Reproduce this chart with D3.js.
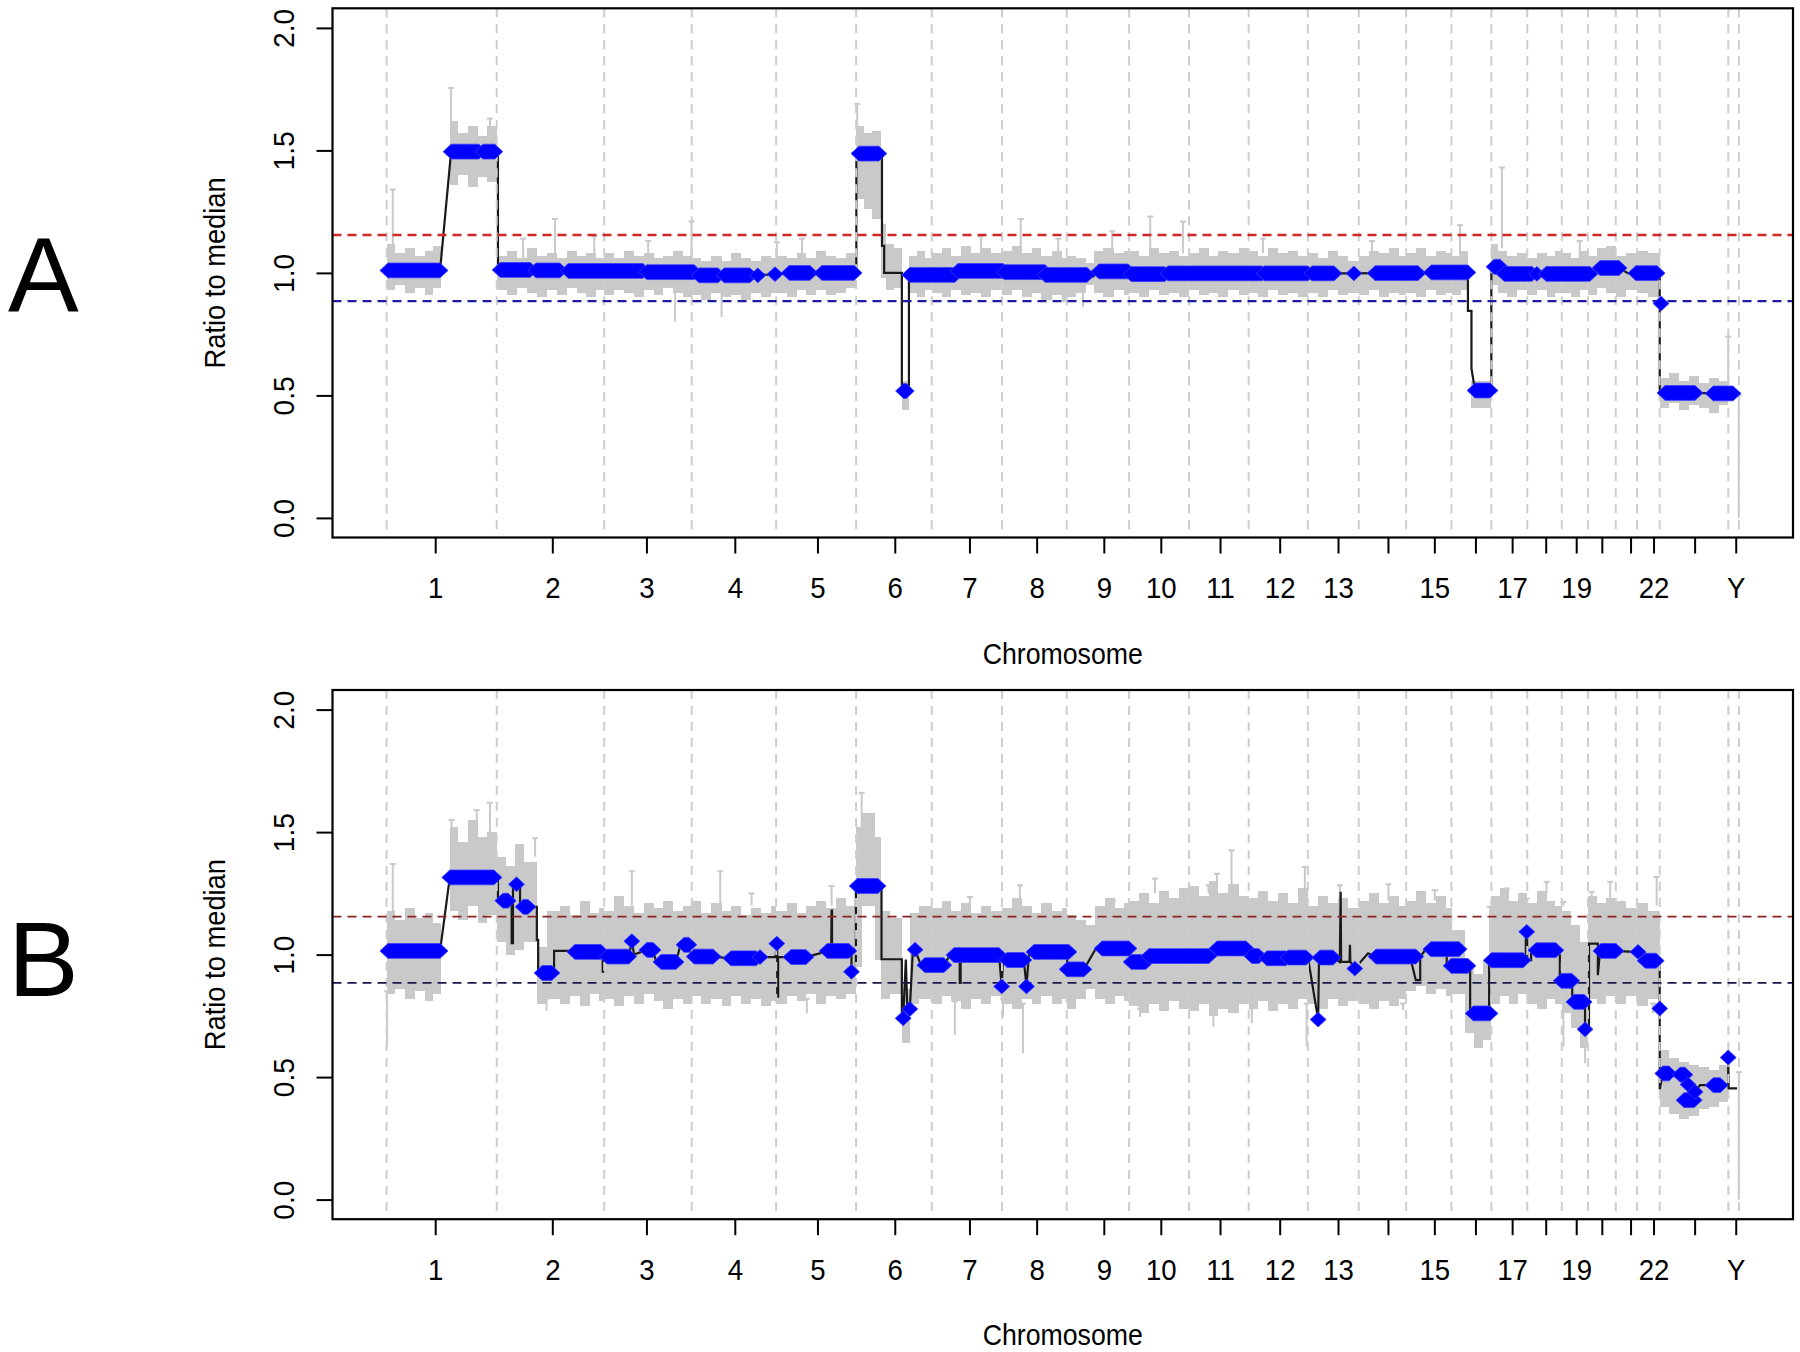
<!doctype html>
<html>
<head>
<meta charset="utf-8">
<title>Ratio to median</title>
<script src="https://cdn.jsdelivr.net/npm/d3@7"></script>
<style>
  body { margin: 0; background: #fff; }
  text { font-family: "Liberation Sans", Arial, sans-serif; fill: #000; }
</style>
</head>
<body>
<script>

// chromosomes (Mb), genome order
var chromNames = ['1','2','3','4','5','6','7','8','9','10','11','12','13','14','15','16','17','18','19','20','21','22','X','Y'];
var chromLengths = [249.25, 243.2, 198.0, 191.15, 180.9, 171.1, 159.1, 146.4, 141.2, 135.5, 135.0, 133.9, 115.2, 107.3, 102.5, 90.4, 81.2, 78.1, 59.1, 63.0, 48.1, 51.3, 155.3, 24.0];
// axis tick positions (genome Mb) and their labels
var tickPos = [110, 375, 588, 788, 975, 1150, 1319, 1471, 1623, 1752, 1886, 2021, 2153, 2266, 2371, 2464, 2547, 2623, 2692, 2750, 2815, 2867, 2960, 3053];
var tickLabels = ['1','2','3','4','5','6','7','8','9','10','11','12','13','','15','','17','','19','','','22','','Y'];
var yTicks = [0, 0.5, 1, 1.5, 2];
var upperCut = 1.155;
var lowerCut = 0.885;

// ---- panel A ----
// segment calls: [start Mb, end Mb, ratio]
var runsA = [[3,121,1.01],[146,209,1.495],[218,245,1.495],[257,325,1.012],[338,392,1.01],[411,580,1.008],[589,696,1.003],[707,750,0.99],[764,822,0.99],[840,840,0.99],[879,879,0.995],[911,958,1.0],[985,1058,1.0],[1069,1114,1.487],[1170,1176,0.518],[1184,1286,0.992],[1293,1395,1.008],[1398,1490,1.003],[1490,1585,0.992],[1612,1678,1.006],[1685,1761,0.995],[1768,1981,0.998],[1986,2085,0.998],[2094,2144,0.998],[2189,2189,0.998],[2237,2334,0.999],[2364,2447,1.002],[2463,2497,0.52],[2506,2520,1.025],[2529,2592,0.996],[2603,2603,0.996],[2624,2723,0.996],[2746,2789,1.02],[2827,2875,0.999],[2884,2884,0.875],[2893,2961,0.51],[3002,3047,0.508]];
// connecting line: [Mb, ratio]
var lineA = [[3,1.01],[121,1.01],[146,1.495],[245,1.495],[252,1.495],[252,1.012],[325,1.012],[338,1.01],[392,1.01],[411,1.008],[580,1.008],[589,1.003],[696,1.003],[707,0.99],[822,0.99],[840,0.99],[879,0.995],[911,1.0],[1058,1.0],[1063,1.0],[1063,1.487],[1114,1.487],[1121,1.487],[1121,1.11],[1126,1.11],[1126,1.0],[1166,1.0],[1166,0.518],[1182,0.518],[1182,0.992],[1286,0.992],[1293,1.008],[1395,1.008],[1490,1.003],[1585,0.992],[1599,0.985],[1612,1.006],[1678,1.006],[1761,0.995],[1981,0.998],[2144,0.998],[2334,0.999],[2447,1.002],[2447,0.845],[2455,0.845],[2455,0.61],[2463,0.52],[2497,0.52],[2500,0.52],[2500,1.025],[2520,1.025],[2529,0.996],[2723,0.996],[2746,1.02],[2789,1.02],[2809,0.999],[2875,0.999],[2881,0.999],[2881,0.51],[2893,0.51],[2961,0.51],[3002,0.508],[3047,0.508],[3060,0.497]];
// bin error envelope: [start Mb, end Mb, low, high]
var grayA = [
  [0,20,0.93,1.12],[20,42,0.95,1.08],[42,64,0.92,1.10],[64,86,0.94,1.07],[86,106,0.91,1.09],[106,122,0.94,1.11],
  [143,162,1.36,1.62],[162,184,1.40,1.57],[184,206,1.35,1.60],[206,228,1.39,1.56],[228,250,1.37,1.60],
  [250,272,0.93,1.07],[272,295,0.91,1.09],[295,318,0.94,1.06],[318,340,0.92,1.10],[340,362,0.90,1.07],[362,385,0.93,1.08],[385,408,0.91,1.06],[408,430,0.94,1.09],[430,452,0.92,1.07],[452,474,0.90,1.08],[474,492,0.93,1.06],
  [492,515,0.91,1.08],[515,538,0.93,1.06],[538,560,0.92,1.09],[560,582,0.90,1.07],[582,604,0.93,1.08],[604,626,0.91,1.06],[626,648,0.94,1.07],[648,670,0.92,1.09],[670,690,0.90,1.07],
  [690,712,0.91,1.06],[712,735,0.89,1.05],[735,758,0.92,1.07],[758,780,0.90,1.05],[780,802,0.91,1.08],[802,825,0.89,1.06],[825,848,0.92,1.05],[848,870,0.90,1.07],[870,882,0.92,1.06],
  [882,905,0.92,1.07],[905,928,0.90,1.06],[928,950,0.93,1.08],[950,972,0.91,1.06],[972,995,0.93,1.09],[995,1018,0.91,1.07],[1018,1040,0.92,1.06],[1040,1063,0.94,1.08],
  [1063,1080,1.30,1.60],[1080,1098,1.26,1.57],[1098,1118,1.22,1.58],
  [1118,1130,0.98,1.20],[1130,1148,0.93,1.12],[1148,1166,0.94,1.10],[1166,1182,0.44,0.56],
  [1182,1200,0.92,1.07],[1200,1218,0.90,1.09],[1218,1234,0.93,1.06],
  [1234,1256,0.92,1.08],[1256,1278,0.90,1.10],[1278,1300,0.93,1.07],[1300,1322,0.91,1.11],[1322,1345,0.92,1.08],[1345,1368,0.90,1.10],[1368,1393,0.93,1.08],
  [1393,1415,0.91,1.09],[1415,1438,0.93,1.11],[1438,1460,0.90,1.08],[1460,1482,0.92,1.10],[1482,1505,0.89,1.07],[1505,1528,0.91,1.09],[1528,1539,0.88,1.06],
  [1539,1560,0.90,1.07],[1560,1582,0.92,1.06],[1582,1600,0.95,1.04],[1600,1622,0.92,1.09],[1622,1645,0.90,1.10],[1645,1668,0.93,1.08],[1668,1680,0.91,1.09],
  [1680,1702,0.92,1.09],[1702,1725,0.90,1.07],[1725,1748,0.93,1.10],[1748,1770,0.91,1.08],[1770,1793,0.92,1.09],[1793,1816,0.90,1.07],
  [1816,1838,0.93,1.08],[1838,1860,0.91,1.10],[1860,1882,0.92,1.07],[1882,1905,0.90,1.09],[1905,1928,0.93,1.08],[1928,1951,0.91,1.10],
  [1951,1973,0.92,1.09],[1973,1995,0.90,1.07],[1995,2018,0.93,1.10],[2018,2040,0.91,1.08],[2040,2062,0.92,1.09],[2062,2085,0.90,1.07],
  [2085,2108,0.92,1.08],[2108,2130,0.90,1.06],[2130,2152,0.93,1.09],[2152,2175,0.91,1.07],[2175,2200,0.92,1.05],
  [2200,2222,0.91,1.07],[2222,2245,0.93,1.09],[2245,2268,0.90,1.08],[2268,2290,0.92,1.10],[2290,2307,0.91,1.07],
  [2307,2330,0.92,1.08],[2330,2352,0.90,1.10],[2352,2375,0.93,1.07],[2375,2398,0.91,1.09],[2398,2410,0.92,1.08],
  [2410,2432,0.91,1.07],[2432,2447,0.93,1.09],[2455,2500,0.45,0.56],
  [2500,2515,0.95,1.12],[2515,2535,0.92,1.09],[2535,2558,0.90,1.07],[2558,2581,0.93,1.08],
  [2581,2603,0.91,1.06],[2603,2625,0.93,1.08],[2625,2645,0.90,1.07],[2645,2659,0.92,1.09],
  [2659,2680,0.92,1.08],[2680,2700,0.90,1.06],[2700,2718,0.93,1.09],
  [2718,2740,0.91,1.07],[2740,2760,0.94,1.10],[2760,2781,0.92,1.11],
  [2781,2805,0.90,1.07],[2805,2830,0.93,1.08],[2830,2855,0.92,1.09],[2855,2881,0.90,1.08],
  [2881,2903,0.45,0.57],[2903,2925,0.47,0.59],[2925,2948,0.44,0.56],[2948,2970,0.46,0.58],[2970,2993,0.45,0.55],[2993,3015,0.43,0.57],[3015,3036,0.46,0.56]
];
// single long error bars: [Mb, low, high]
var spikesA = [[14,1.05,1.34],[146,1.55,1.755],[234,1.55,1.63],[309,1.05,1.14],[381,1.05,1.22],[470,1.05,1.15],[592,1.05,1.13],[653,0.80,0.95],[690,1.05,1.21],[758,0.82,0.95],[883,1.05,1.125],[940,1.05,1.14],[1065,1.55,1.69],[1345,1.05,1.15],[1435,1.08,1.22],[1520,1.05,1.14],[1576,0.86,0.95],[1642,1.08,1.17],[1728,1.08,1.23],[1802,1.08,1.21],[1983,1.08,1.14],[2230,1.05,1.13],[2429,1.07,1.195],[2524,1.10,1.43],[2700,1.05,1.13],[3036,0.55,0.74],[3060,0.0,0.50]];

// ---- panel B ----
var runsB = [[3,121,1.015],[143,243,1.315],[263,275,1.22],[294,294,1.287],[309,320,1.195],[352,374,0.925],[426,485,1.011],[499,548,0.992],[555,555,1.055],[589,603,1.019],[621,655,0.97],[673,684,1.04],[696,739,0.992],[779,836,0.985],[845,845,0.99],[883,883,1.045],[915,949,0.99],[997,1046,1.015],[1052,1052,0.93],[1065,1112,1.28],[1169,1169,0.74],[1184,1184,0.778],[1196,1196,1.02],[1218,1261,0.957],[1284,1386,0.998],[1392,1392,0.87],[1404,1442,0.978],[1448,1448,0.87],[1465,1544,1.011],[1540,1578,0.94],[1619,1680,1.025],[1685,1718,0.97],[1725,1861,0.994],[1879,1945,1.025],[1958,1974,0.994],[1992,2035,0.985],[2040,2081,0.988],[2108,2108,0.735],[2112,2142,0.988],[2191,2191,0.943],[2239,2329,0.992],[2363,2427,1.022],[2409,2447,0.954],[2459,2497,0.76],[2500,2572,0.977],[2580,2580,1.093],[2601,2646,1.018],[2658,2682,0.893],[2687,2710,0.807],[2712,2712,0.695],[2748,2782,1.015],[2832,2832,1.011],[2848,2873,0.975],[2881,2881,0.78],[2888,2902,0.515],[2927,2938,0.51],[2945,2945,0.47],[2936,2959,0.406],[2961,2961,0.44],[3002,3018,0.467],[3036,3036,0.58]];
var lineB = [[3,1.015],[121,1.015],[143,1.315],[243,1.315],[252,1.315],[252,1.22],[275,1.22],[283,1.22],[283,1.047],[286,1.047],[286,1.287],[294,1.287],[302,1.287],[302,1.195],[320,1.195],[340,1.195],[340,1.06],[343,1.06],[343,0.925],[374,0.925],[379,0.925],[379,1.015],[415,1.015],[426,1.011],[489,1.011],[489,0.93],[490,0.93],[490,1.011],[495,1.011],[495,0.992],[548,0.992],[555,1.055],[560,1.0],[589,1.019],[603,1.019],[610,0.97],[655,0.97],[665,1.04],[684,1.04],[690,0.992],[739,0.992],[779,0.985],[836,0.985],[845,0.99],[880,0.99],[883,1.045],[884,1.045],[884,0.828],[886,0.828],[886,0.99],[915,0.99],[949,0.99],[990,1.01],[1006,1.015],[1007,1.18],[1008,1.18],[1008,1.015],[1046,1.015],[1052,1.015],[1052,0.93],[1062,0.93],[1062,1.28],[1112,1.28],[1120,1.28],[1120,0.981],[1166,0.981],[1166,0.74],[1169,0.74],[1175,0.98],[1178,0.80],[1184,0.778],[1191,1.02],[1196,1.02],[1209,0.957],[1261,0.957],[1275,0.998],[1297,0.998],[1297,0.885],[1299,0.885],[1299,0.998],[1386,0.998],[1392,0.87],[1395,0.978],[1442,0.978],[1448,0.87],[1454,1.011],[1540,1.011],[1540,0.94],[1578,0.94],[1605,1.025],[1680,1.025],[1685,0.97],[1718,0.97],[1725,0.994],[1861,0.994],[1870,1.025],[1945,1.025],[1952,0.994],[1974,0.994],[1983,0.985],[2035,0.985],[2081,0.988],[2085,0.988],[2108,0.735],[2110,0.988],[2142,0.988],[2157,0.97],[2159,1.256],[2160,0.97],[2179,0.97],[2180,1.04],[2181,0.97],[2191,0.943],[2221,1.005],[2239,0.992],[2316,0.992],[2329,0.896],[2339,0.896],[2339,0.992],[2352,1.022],[2399,1.022],[2399,0.954],[2452,0.954],[2452,0.762],[2495,0.762],[2495,0.98],[2500,0.977],[2572,0.977],[2578,0.977],[2578,1.093],[2581,1.093],[2581,0.977],[2590,0.977],[2590,1.018],[2646,1.018],[2655,1.018],[2655,0.893],[2683,0.893],[2683,0.807],[2710,0.807],[2712,0.807],[2712,0.695],[2721,0.695],[2721,1.045],[2741,1.045],[2741,0.916],[2746,1.015],[2782,1.015],[2821,1.011],[2832,1.011],[2848,0.975],[2873,0.975],[2881,0.975],[2881,0.78],[2881,0.45],[2888,0.515],[2902,0.515],[2927,0.51],[2945,0.47],[2950,0.406],[2961,0.44],[2972,0.467],[3018,0.467],[3036,0.467],[3036,0.58],[3037,0.454],[3056,0.454]];
var grayB = [
  [0,20,0.84,1.18],[20,42,0.86,1.14],[42,64,0.82,1.19],[64,86,0.85,1.15],[86,106,0.81,1.17],[106,122,0.84,1.13],
  [143,162,1.18,1.52],[162,184,1.14,1.46],[184,206,1.20,1.55],[206,228,1.13,1.48],[228,250,1.16,1.50],
  [250,270,1.05,1.40],[270,290,1.00,1.36],[290,312,1.02,1.45],[312,340,1.05,1.38],[340,362,0.80,1.03],[362,392,0.82,1.18],
  [392,415,0.80,1.20],[415,438,0.83,1.16],[438,460,0.79,1.22],[460,480,0.84,1.17],[480,492,0.81,1.19],
  [492,515,0.82,1.18],[515,538,0.79,1.24],[538,560,0.83,1.20],[560,582,0.80,1.17],[582,604,0.84,1.21],[604,626,0.81,1.19],[626,648,0.78,1.22],[648,670,0.82,1.18],[670,690,0.80,1.20],
  [690,712,0.83,1.22],[712,735,0.80,1.17],[735,758,0.82,1.21],[758,780,0.79,1.18],[780,802,0.83,1.20],[802,825,0.80,1.16],[825,848,0.82,1.19],[848,870,0.79,1.17],[870,882,0.81,1.20],
  [882,905,0.80,1.18],[905,928,0.83,1.21],[928,950,0.81,1.17],[950,972,0.84,1.20],[972,995,0.80,1.22],[995,1018,0.83,1.19],[1018,1040,0.82,1.23],[1040,1063,0.84,1.20],
  [1063,1075,0.95,1.52],[1075,1105,1.20,1.58],[1105,1118,0.98,1.48],
  [1118,1140,0.82,1.18],[1140,1166,0.84,1.15],[1166,1184,0.64,0.86],[1184,1205,0.80,1.17],[1205,1234,0.82,1.20],
  [1234,1256,0.80,1.19],[1256,1278,0.83,1.22],[1278,1300,0.81,1.18],[1300,1322,0.78,1.21],[1322,1345,0.82,1.17],[1345,1368,0.80,1.20],[1368,1393,0.83,1.18],
  [1393,1415,0.80,1.19],[1415,1438,0.78,1.23],[1438,1460,0.82,1.20],[1460,1482,0.80,1.17],[1482,1505,0.83,1.21],[1505,1528,0.80,1.18],[1528,1539,0.82,1.19],
  [1539,1560,0.78,1.16],[1560,1582,0.82,1.14],[1582,1604,0.86,1.12],[1604,1626,0.82,1.20],[1626,1648,0.80,1.23],[1648,1668,0.83,1.19],[1668,1680,0.81,1.21],
  [1680,1702,0.79,1.22],[1702,1725,0.76,1.25],[1725,1748,0.80,1.21],[1748,1770,0.77,1.26],[1770,1793,0.81,1.23],[1793,1816,0.78,1.27],
  [1816,1838,0.77,1.28],[1838,1860,0.80,1.24],[1860,1882,0.75,1.30],[1882,1905,0.78,1.25],[1905,1928,0.76,1.29],[1928,1951,0.80,1.24],
  [1951,1973,0.78,1.23],[1973,1995,0.81,1.26],[1995,2018,0.77,1.22],[2018,2040,0.80,1.25],[2040,2062,0.78,1.21],[2062,2085,0.82,1.27],
  [2085,2108,0.80,1.20],[2108,2130,0.78,1.24],[2130,2152,0.82,1.21],[2152,2175,0.79,1.23],[2175,2200,0.81,1.19],
  [2200,2222,0.80,1.22],[2222,2245,0.78,1.25],[2245,2268,0.81,1.21],[2268,2290,0.79,1.24],[2290,2307,0.82,1.20],
  [2307,2330,0.85,1.22],[2330,2352,0.87,1.26],[2352,2375,0.84,1.21],[2375,2398,0.86,1.24],[2398,2410,0.83,1.19],
  [2410,2440,0.84,1.10],[2440,2460,0.68,0.95],[2460,2480,0.62,0.92],[2480,2500,0.65,0.98],
  [2500,2520,0.80,1.24],[2520,2540,0.83,1.27],[2540,2560,0.80,1.22],[2560,2581,0.84,1.25],
  [2581,2603,0.80,1.21],[2603,2625,0.78,1.26],[2625,2645,0.82,1.22],[2645,2659,0.80,1.20],
  [2659,2680,0.76,1.18],[2680,2700,0.70,1.12],[2700,2718,0.62,1.05],
  [2718,2740,0.82,1.24],[2740,2760,0.80,1.21],[2760,2781,0.83,1.23],
  [2781,2805,0.80,1.22],[2805,2830,0.83,1.19],[2830,2855,0.79,1.21],[2855,2881,0.82,1.18],
  [2881,2903,0.38,0.61],[2903,2925,0.35,0.58],[2925,2948,0.33,0.56],[2948,2970,0.34,0.55],[2970,2993,0.37,0.54],[2993,3015,0.38,0.53],[3015,3036,0.40,0.55]
];
var spikesB = [[14,1.1,1.37],[1,0.62,0.85],[147,1.45,1.55],[204,1.45,1.59],[234,1.45,1.62],[336,1.40,1.475],[362,0.77,0.82],[555,1.2,1.34],[755,1.2,1.34],[826,1.2,1.25],[951,0.76,0.82],[1007,1.2,1.28],[1075,1.5,1.66],[1286,0.671,0.81],[1320,1.2,1.235],[1395,0.746,0.82],[1433,1.2,1.283],[1440,0.597,0.80],[1644,1.2,1.22],[1705,0.746,0.78],[1739,1.25,1.31],[1860,1.25,1.283],[1871,0.705,0.76],[1879,1.25,1.33],[1912,1.25,1.426],[1958,0.72,0.78],[2078,1.25,1.358],[2082,0.624,0.80],[2157,1.22,1.283],[2267,1.22,1.287],[2300,0.773,0.80],[2372,1.22,1.263],[2497,0.95,1.195],[2535,1.25,1.27],[2580,1.2,1.229],[2625,1.25,1.297],[2663,0.624,0.80],[2663,1.2,1.215],[2712,0.557,0.65],[2727,1.22,1.256],[2769,1.22,1.297],[2866,0.761,0.80],[2874,1.2,1.317],[3060,0.0,0.52]];

// ---------------------------------------------------------
var W = 1800, H = 1352;
var svg = d3.select('body').append('svg').attr('width', W).attr('height', H);
svg.append('rect').attr('width', W).attr('height', H).attr('fill', '#fff');

var chromStart = [];
var acc = 0;
chromLengths.forEach(function (l) { chromStart.push(acc); acc += l; });
var genome = acc;
var bounds = chromStart.concat([genome]);

var left = 332.5, right = 1793;
var x = d3.scaleLinear().domain([-0.04 * genome, 1.04 * genome]).range([left, right]);

var hw = 8, hh = 7.4;   // marker half width / half height

function panel(o) {
  var y = d3.scaleLinear().domain([-0.08, 2.08]).range([o.bottom, o.top]);
  var g = svg.append('g');

  g.append('g').selectAll('rect').data(o.gray).enter().append('rect')
    .attr('x', function (d) { return x(d[0]); })
    .attr('width', function (d) { return x(d[1]) - x(d[0]); })
    .attr('y', function (d) { return y(d[3]); })
    .attr('height', function (d) { return y(d[2]) - y(d[3]); })
    .attr('fill', '#c9c9c9')
    .attr('shape-rendering', 'crispEdges');

  var sp = g.append('g').attr('stroke', '#c9c9c9').attr('stroke-width', 2);
  o.spikes.forEach(function (d) {
    sp.append('line').attr('x1', x(d[0])).attr('x2', x(d[0])).attr('y1', y(d[1])).attr('y2', y(d[2]));
    sp.append('line').attr('x1', x(d[0]) - 3).attr('x2', x(d[0]) + 3).attr('y1', y(d[2])).attr('y2', y(d[2]));
  });

  g.append('path').datum(o.line)
    .attr('d', d3.line().x(function (d) { return x(d[0]); }).y(function (d) { return y(d[1]); }))
    .attr('fill', 'none').attr('stroke', '#1a1a1a').attr('stroke-width', 2.2);

  g.append('g').selectAll('line').data(bounds).enter().append('line')
    .attr('x1', function (d) { return x(d); }).attr('x2', function (d) { return x(d); })
    .attr('y1', o.top).attr('y2', o.bottom)
    .attr('stroke', '#cdcdcd').attr('stroke-width', 2).attr('stroke-dasharray', '9,7');

  [[upperCut, o.red], [lowerCut, o.blue]].forEach(function (c) {
    g.append('line').attr('x1', left).attr('x2', right).attr('y1', y(c[0])).attr('y2', y(c[0]))
      .attr('stroke', c[1]).attr('stroke-width', o.cutWidth).attr('stroke-dasharray', '9,6');
  });

  g.append('g').selectAll('path').data(o.runs).enter().append('path')
    .attr('d', function (d) {
      var x0 = x(d[0]), x1 = x(d[1]), yy = y(d[2]);
      return 'M' + (x0 - hw) + ',' + yy + 'L' + x0 + ',' + (yy - hh) + 'L' + x1 + ',' + (yy - hh) +
             'L' + (x1 + hw) + ',' + yy + 'L' + x1 + ',' + (yy + hh) + 'L' + x0 + ',' + (yy + hh) + 'Z';
    })
    .attr('fill', '#0000ff').attr('stroke', '#3a3aff').attr('stroke-width', 0.8);

  g.append('rect').attr('x', left).attr('y', o.top).attr('width', right - left).attr('height', o.bottom - o.top)
    .attr('fill', 'none').attr('stroke', '#000').attr('stroke-width', 2.2);

  var xa = g.append('g').attr('transform', 'translate(0,' + o.bottom + ')')
    .call(d3.axisBottom(x).tickValues(tickPos).tickFormat(function (d, i) { return tickLabels[i]; }).tickSize(16).tickSizeOuter(0));
  xa.select('.domain').remove();
  xa.selectAll('line').attr('stroke', '#000').attr('stroke-width', 2);
  xa.selectAll('text').attr('y', 61).attr('dy', null).attr('font-size', 30)
    .attr('font-family', '"Liberation Sans", Arial, sans-serif').attr('transform', 'scale(0.92,1)');

  var ya = g.append('g').attr('transform', 'translate(' + left + ',0)')
    .call(d3.axisLeft(y).tickValues(yTicks).tickFormat(d3.format('.1f')).tickSize(16).tickSizeOuter(0));
  ya.select('.domain').remove();
  ya.selectAll('line').attr('stroke', '#000').attr('stroke-width', 2);
  ya.selectAll('text').attr('x', 0).attr('dy', null).attr('font-size', 30).attr('text-anchor', 'middle')
    .attr('font-family', '"Liberation Sans", Arial, sans-serif')
    .attr('transform', 'translate(-39,0) rotate(-90) scale(0.94,1)');

  var cy = (o.top + o.bottom) / 2;
  g.append('text').attr('transform', 'translate(225,' + cy + ') rotate(-90) scale(0.91,1)')
    .attr('text-anchor', 'middle').attr('font-size', 30).text('Ratio to median');
  g.append('text').attr('transform', 'translate(' + ((left + right) / 2) + ',' + (o.bottom + 126) + ') scale(0.89,1)')
    .attr('text-anchor', 'middle').attr('font-size', 30).text('Chromosome');
  g.append('text').attr('x', 8).attr('y', o.letterY).attr('font-size', 106).text(o.letter);
}

panel({ top: 8.3, bottom: 537.5, runs: runsA, line: lineA, gray: grayA, spikes: spikesA,
        red: '#d02626', blue: '#1c1ca0', cutWidth: 2.4, letter: 'A', letterY: 311 });
panel({ top: 690, bottom: 1219.2, runs: runsB, line: lineB, gray: grayB, spikes: spikesB,
        red: '#8a2222', blue: '#1a1a4a', cutWidth: 1.8, letter: 'B', letterY: 996 });

</script>
</body>
</html>
